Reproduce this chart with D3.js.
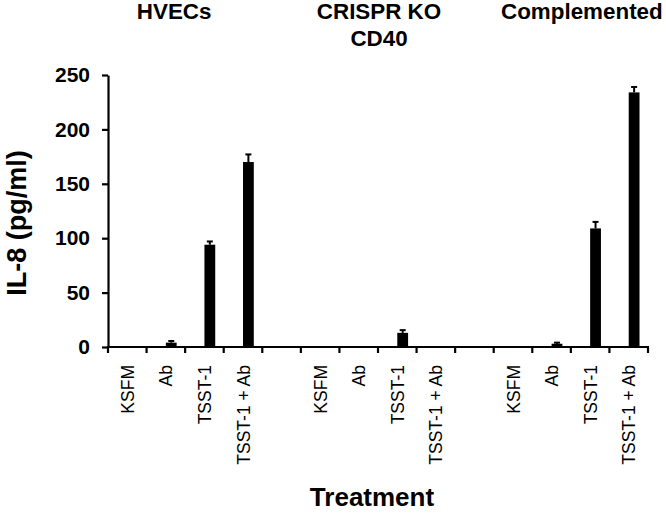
<!DOCTYPE html>
<html>
<head>
<meta charset="utf-8">
<script src="https://cdn.jsdelivr.net/npm/d3@7"></script>
<style>
  body { margin: 0; background: #fff; }
  svg { display: block; font-family: "Liberation Sans", Arial, sans-serif; }
</style>
</head>
<body>
<script>
// IL-8 release per treatment, three cell lines
const treatments = ['KSFM', 'Ab', 'TSST-1', 'TSST-1 + Ab'];
const groups = ['HVECs', 'CRISPR KO|CD40', 'Complemented'];
const hvecMeans = [0, 4, 94, 170];
const hvecErr = [0, 1.5, 3, 7];
const crisprMeans = [0, 0, 13, 0];
const crisprErr = [0, 0, 2.5, 0];
const compMeans = [0, 3, 109, 234];
const compErr = [0, 1, 6, 5];
const yTicks = [0, 50, 100, 150, 200, 250];

const width = 666, height = 513;
const margin = {top: 75, right: 18, bottom: 166, left: 108};

const seriesMeans = [hvecMeans, crisprMeans, compMeans];
const seriesErr = [hvecErr, crisprErr, compErr];

// one band per treatment, plus an empty band between groups
let slots = [];
let rows = [];
groups.forEach((g, gi) => {
    if (gi > 0) slots.push('gap' + gi);
    treatments.forEach((t, ti) => {
        let key = g + '/' + t;
        slots.push(key);
        rows.push({key: key, group: g, gi: gi, treatment: t, value: seriesMeans[gi][ti], err: seriesErr[gi][ti]});
    });
});

const svg = d3.select('body').append('svg')
    .attr('width', width)
    .attr('height', height);

const x = d3.scaleBand()
    .domain(slots)
    .range([margin.left, width - margin.right])
    .padding(0);

const y = d3.scaleLinear()
    .domain([0, 250])
    .range([height - margin.bottom, margin.top]);

const barW = x.bandwidth() * 0.28;

// bars
svg.append('g')
    .selectAll('rect')
    .data(rows.filter(d => d.value > 0))
    .join('rect')
    .attr('x', d => x(d.key) + x.bandwidth() / 2)
    .attr('width', barW)
    .attr('y', d => y(d.value))
    .attr('height', d => y(0) - y(d.value))
    .attr('fill', '#000');

// error bars (upper half only)
const eb = svg.append('g')
    .attr('stroke', '#000')
    .attr('stroke-width', 2)
    .selectAll('g')
    .data(rows.filter(d => d.err > 0))
    .join('g')
    .attr('transform', d => `translate(${x(d.key) + x.bandwidth() / 2 + barW / 2},0)`);
eb.append('line')
    .attr('y1', d => y(d.value))
    .attr('y2', d => y(d.value + d.err));
eb.append('line')
    .attr('x1', -3).attr('x2', 3)
    .attr('y1', d => y(d.value + d.err))
    .attr('y2', d => y(d.value + d.err));

// y axis
const yAxis = svg.append('g')
    .attr('transform', `translate(${margin.left},0)`)
    .call(d3.axisLeft(y).tickValues(yTicks).tickSize(6).tickSizeOuter(0).tickPadding(12));
yAxis.select('.domain').attr('stroke-width', 2.2);
yAxis.selectAll('.tick line').attr('stroke-width', 2.2);
yAxis.selectAll('.tick text')
    .style('font-size', '21px')
    .style('font-weight', 'bold')
    .attr('fill', '#000');

// x axis: line with ticks at every band edge
const xAxis = svg.append('g');
xAxis.append('line')
    .attr('x1', margin.left - 1)
    .attr('x2', width - margin.right + 1)
    .attr('y1', y(0)).attr('y2', y(0))
    .attr('stroke', '#000')
    .attr('stroke-width', 2.2);
const edges = slots.map(s => x(s)).concat([x.range()[1]]);
xAxis.selectAll('.xtick')
    .data(edges)
    .join('line')
    .attr('class', 'xtick')
    .attr('x1', d => d).attr('x2', d => d)
    .attr('y1', y(0)).attr('y2', y(0) + 6)
    .attr('stroke', '#000')
    .attr('stroke-width', 2.2);

// treatment labels, rotated
xAxis.selectAll('.xlab')
    .data(rows)
    .join('text')
    .attr('class', 'xlab')
    .attr('transform', d => `translate(${x(d.key) + x.bandwidth() / 2 + 6.5},${y(0) + 18}) rotate(-90)`)
    .attr('text-anchor', 'end')
    .style('font-size', '17.5px')
    .text(d => d.treatment);

// group titles
const titleShift = [-11, 1, 11];
const titles = svg.append('g')
    .selectAll('text')
    .data(groups)
    .join('text')
    .attr('text-anchor', 'middle')
    .style('font-size', '22.4px')
    .style('font-weight', 'bold')
    .attr('transform', (g, i) => {
        let first = x(g + '/' + treatments[0]);
        let last = x(g + '/' + treatments[treatments.length - 1]) + x.bandwidth();
        return `translate(${(first + last) / 2 + titleShift[i]},18.5)`;
    });
titles.selectAll('tspan')
    .data(g => g.split('|'))
    .join('tspan')
    .attr('x', 0)
    .attr('dy', (d, i) => i === 0 ? 0 : 27)
    .text(d => d);

// axis titles
svg.append('text')
    .attr('transform', `translate(26,223) rotate(-90)`)
    .attr('text-anchor', 'middle')
    .style('font-size', '27px')
    .style('font-weight', 'bold')
    .text('IL-8 (pg/ml)');

svg.append('text')
    .attr('x', 372)
    .attr('y', 506)
    .attr('text-anchor', 'middle')
    .style('font-size', '26px')
    .style('font-weight', 'bold')
    .text('Treatment');
</script>
</body>
</html>
